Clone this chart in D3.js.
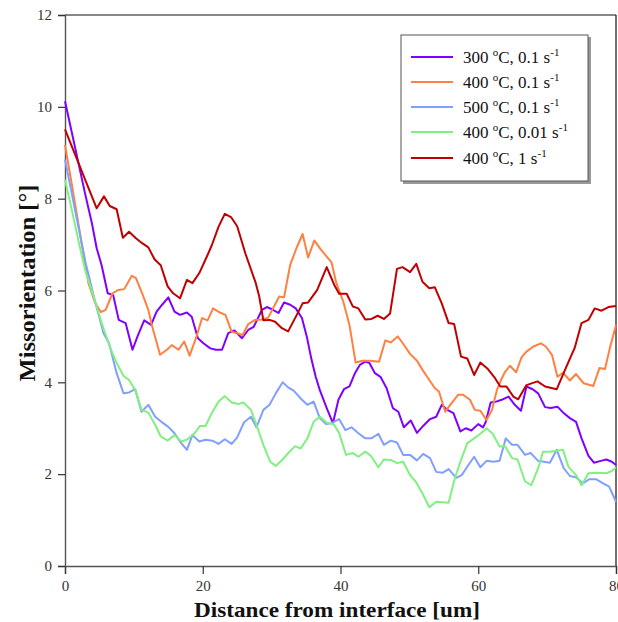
<!DOCTYPE html>
<html>
<head>
<meta charset="utf-8">
<script src="https://cdn.jsdelivr.net/npm/d3@7"></script>
<style>
  html, body { margin: 0; padding: 0; background: #fff; }
  svg { display: block; }
</style>
</head>
<body>
<svg id="chart" width="618" height="622"></svg>
<script>
// ---- data (distance [um], missorientation [deg]) ----
const xTicks = [0, 20, 40, 60, 80];
const yTicks = [0, 2, 4, 6, 8, 10, 12];

const s300_01 = [[0,10.12],[1.7,8.95],[2.9,8.12],[3.9,7.47],[4.6,6.92],[5.3,6.56],[6.2,5.94],[7.0,5.90],[7.8,5.36],[8.8,5.29],[9.8,4.71],[10.6,5.03],[11.5,5.35],[12.5,5.25],[13.3,5.54],[14.1,5.69],[15.0,5.85],[15.9,5.54],[16.7,5.47],[17.7,5.52],[18.4,5.43],[19.3,4.96],[20.1,4.85],[21.1,4.74],[21.9,4.71],[22.8,4.71],[23.7,5.07],[24.6,5.13],[25.7,4.96],[26.6,5.14],[27.4,5.21],[28.6,5.58],[29.3,5.64],[30.2,5.58],[31.0,5.51],[31.8,5.74],[32.7,5.69],[33.5,5.61],[34.4,5.40],[35.1,5.00],[35.8,4.49],[36.4,4.12],[37.0,3.83],[38.0,3.44],[38.9,3.11],[39.7,3.62],[40.5,3.85],[41.3,3.91],[42.1,4.20],[42.8,4.38],[43.6,4.45],[44.2,4.42],[45.0,4.20],[45.8,4.12],[46.7,3.87],[47.6,3.44],[48.4,3.36],[49.2,3.02],[50.2,3.17],[51.1,2.90],[52.0,3.05],[53.0,3.20],[53.9,3.25],[54.7,3.51],[55.5,3.40],[56.4,3.33],[57.4,2.93],[58.2,3.00],[59.0,2.95],[60.0,3.09],[60.7,3.02],[61.1,3.14],[61.8,3.56],[62.6,3.58],[63.4,3.62],[64.4,3.69],[65.3,3.51],[66.2,3.38],[67.0,3.91],[67.9,3.85],[68.7,3.76],[69.7,3.46],[70.5,3.44],[71.5,3.47],[72.4,3.33],[73.3,3.22],[74.2,3.14],[75.0,2.78],[76.0,2.40],[76.8,2.25],[77.8,2.29],[78.6,2.32],[79.4,2.27],[80,2.20]];

const s400_01 = [[0,9.17],[1,8.3],[2,7.4],[3,6.5],[3.4,6.16],[4.4,5.72],[5.2,5.53],[5.9,5.58],[6.9,5.94],[7.7,6.01],[8.6,6.03],[9.7,6.32],[10.3,6.27],[11.2,5.94],[12.1,5.58],[12.6,5.25],[13.8,4.60],[14.8,4.71],[15.5,4.81],[16.5,4.71],[17.3,4.89],[18.1,4.58],[19.1,5.00],[19.9,5.40],[20.7,5.35],[21.5,5.61],[22.5,5.52],[23.3,5.47],[24.2,5.10],[25.0,5.07],[25.8,5.03],[26.6,5.27],[27.6,5.36],[28.6,5.37],[29.5,5.41],[30.2,5.61],[31.1,5.87],[31.8,5.85],[32.7,6.56],[33.6,6.92],[34.5,7.23],[35.3,6.72],[36.2,7.09],[37.1,6.90],[38.0,6.74],[38.7,6.61],[39.4,6.16],[40.4,5.76],[41.3,5.25],[42.2,4.43],[43.2,4.47],[44.3,4.47],[45.6,4.45],[46.5,4.91],[47.3,4.87],[48.3,5.00],[49.1,4.84],[50.1,4.62],[51.1,4.47],[52.0,4.25],[52.9,4.05],[53.7,3.87],[54.3,3.80],[55.2,3.36],[56.1,3.54],[57.1,3.73],[57.8,3.73],[58.8,3.62],[59.5,3.40],[60.3,3.38],[61.2,3.18],[62.0,3.40],[62.7,3.83],[63.3,4.05],[63.9,4.23],[64.6,4.36],[65.5,4.22],[66.3,4.55],[67.0,4.67],[68.0,4.78],[69.1,4.85],[69.8,4.78],[70.7,4.60],[71.5,4.12],[72.3,4.21],[73.3,4.04],[74.2,4.18],[75.3,3.98],[76.7,3.92],[77.6,4.31],[78.4,4.29],[79.1,4.74],[80,5.25]];

const s500_01 = [[0,8.85],[1,8.1],[2,7.35],[3,6.6],[4.3,5.8],[5.6,5.07],[6.4,4.85],[7.5,4.20],[8.5,3.76],[9.3,3.78],[10.2,3.85],[11.1,3.36],[12.1,3.51],[13.1,3.25],[14.0,3.14],[15.0,3.03],[15.9,2.89],[16.7,2.71],[17.7,2.53],[18.5,2.85],[19.5,2.71],[20.4,2.75],[21.4,2.73],[22.3,2.66],[23.2,2.76],[24.2,2.66],[25.0,2.80],[26.0,3.13],[27.0,3.25],[27.8,3.02],[28.8,3.40],[29.7,3.51],[30.6,3.76],[31.6,4.00],[32.4,3.89],[33.2,3.82],[34.4,3.62],[35.2,3.51],[36.1,3.58],[37.0,3.22],[37.9,3.09],[38.7,3.11],[39.8,3.20],[40.7,2.96],[41.6,3.02],[42.6,2.89],[43.6,2.78],[44.5,2.78],[45.5,2.88],[46.3,2.64],[47.3,2.73],[48.2,2.69],[49.1,2.42],[50.1,2.42],[51.1,2.30],[52.0,2.44],[53.0,2.35],[53.9,2.05],[54.8,2.03],[55.7,2.11],[56.8,1.92],[57.6,1.98],[58.4,2.16],[59.4,2.38],[60.3,2.15],[61.2,2.29],[62.2,2.27],[63.1,2.29],[64.0,2.78],[64.9,2.64],[65.7,2.64],[66.8,2.42],[67.6,2.46],[68.7,2.29],[70.4,2.25],[71.4,2.53],[72.4,2.13],[73.3,1.96],[74.2,1.93],[75.2,1.80],[76.1,1.89],[77.1,1.89],[78.0,1.81],[79.0,1.73],[80,1.40]];

const s400_001 = [[0,8.41],[1,7.75],[2,7.05],[3,6.4],[4.3,5.8],[5.3,5.3],[6.5,4.78],[7.5,4.42],[8.5,4.14],[9.3,4.05],[10.2,3.83],[11.1,3.40],[12.1,3.34],[13.1,3.07],[13.9,2.82],[14.9,2.73],[15.9,2.85],[16.9,2.71],[17.8,2.76],[18.8,2.89],[19.6,3.05],[20.4,3.05],[21.3,3.33],[22.3,3.58],[23.2,3.70],[24.2,3.56],[25.2,3.53],[25.9,3.56],[27.0,3.40],[27.8,3.07],[28.8,2.64],[29.8,2.27],[30.6,2.18],[31.6,2.32],[32.6,2.49],[33.4,2.61],[34.2,2.56],[35.2,2.78],[36.1,3.14],[37.0,3.25],[38.0,3.12],[39.0,3.09],[39.8,2.90],[40.8,2.42],[41.8,2.46],[42.6,2.38],[43.6,2.49],[44.4,2.40],[45.5,2.15],[46.3,2.32],[47.3,2.31],[48.2,2.24],[49.1,2.27],[50.1,1.98],[51.0,1.82],[51.9,1.58],[52.9,1.28],[53.9,1.40],[55.7,1.38],[56.6,1.91],[57.5,2.31],[58.4,2.67],[59.4,2.78],[60.4,2.89],[61.2,3.00],[62.1,2.88],[63.1,2.60],[63.9,2.61],[64.9,2.35],[65.7,2.32],[66.8,1.84],[67.7,1.76],[68.7,2.13],[69.4,2.49],[70.4,2.49],[71.4,2.51],[72.3,2.53],[73.1,2.16],[74.2,1.98],[75.0,1.76],[76.0,2.02],[77.2,2.03],[78.6,2.02],[79.4,2.07],[80,2.15]];

const s400_1 = [[0,9.51],[4.6,7.79],[5.66,8.05],[6.5,7.84],[7.5,7.77],[8.4,7.15],[9.3,7.28],[10.3,7.14],[11.2,7.03],[12.1,6.94],[13.0,6.68],[13.9,6.55],[14.9,6.09],[15.7,5.94],[16.7,5.83],[17.7,6.23],[18.5,6.16],[19.5,6.38],[20.6,6.74],[21.3,6.98],[22.3,7.39],[23.2,7.67],[24.1,7.60],[25.0,7.40],[26.2,6.80],[27.7,6.16],[28.2,5.87],[28.8,5.35],[29.7,5.36],[30.5,5.32],[31.5,5.18],[32.4,5.11],[33.9,5.54],[34.5,5.72],[35.3,5.74],[36.6,6.01],[38.0,6.51],[39.1,6.12],[39.8,5.93],[40.9,5.93],[41.8,5.65],[42.6,5.61],[43.6,5.37],[44.5,5.38],[45.4,5.45],[46.3,5.38],[47.2,5.50],[48.2,6.47],[49.0,6.51],[50.1,6.40],[51.0,6.58],[51.9,6.19],[52.9,6.05],[53.7,6.07],[54.7,5.72],[55.7,5.29],[56.5,5.27],[57.5,4.56],[58.4,4.52],[59.4,4.16],[60.3,4.43],[61.4,4.29],[62.3,4.12],[63.2,3.91],[64.1,3.91],[65.1,3.69],[65.8,3.63],[67.0,3.94],[68.6,4.02],[69.7,3.91],[71.4,3.85],[72.8,4.34],[74.0,4.75],[75.0,5.29],[76.0,5.36],[76.9,5.61],[77.9,5.56],[78.9,5.64],[80,5.66]];

const seriesNames = [
  {t: "300", r: "0.1"},
  {t: "400", r: "0.1"},
  {t: "500", r: "0.1"},
  {t: "400", r: "0.01"},
  {t: "400", r: "1"}
];
const seriesData = [s300_01, s400_01, s500_01, s400_001, s400_1];
const colors = ["#8000ff", "#ff8040", "#80a0ff", "#80f080", "#c00000"];

// ---- layout ----
const svg = d3.select("#chart");
const x = d3.scaleLinear().domain([0, 80]).range([65, 616]);
const y = d3.scaleLinear().domain([0, 12]).range([566, 15]);

const serif = "'Liberation Serif', 'Times New Roman', serif";

// frame (top and right)
svg.append("line").attr("x1", x(0)).attr("x2", x(80)).attr("y1", y(12)).attr("y2", y(12))
  .attr("stroke", "#111").attr("stroke-width", 1.2);
svg.append("line").attr("x1", x(80)).attr("x2", x(80)).attr("y1", y(12)).attr("y2", y(0))
  .attr("stroke", "#111").attr("stroke-width", 1.2);

// axes
const xAxis = svg.append("g").attr("transform", `translate(0,${y(0)})`)
  .call(d3.axisBottom(x).tickValues(xTicks).tickSize(8).tickPadding(6));
const yAxis = svg.append("g").attr("transform", `translate(${x(0)},0)`)
  .call(d3.axisLeft(y).tickValues(yTicks).tickSize(7).tickPadding(6));
[xAxis, yAxis].forEach(g => {
  g.select(".domain").attr("stroke", "#555").attr("stroke-width", 1.4);
  g.selectAll(".tick line").attr("stroke", "#333").attr("stroke-width", 1.2);
  g.selectAll(".tick text").attr("font-family", serif).attr("font-size", 15).attr("fill", "#333");
});

// lines
const line = d3.line().x(d => x(d[0])).y(d => y(d[1]));
svg.append("g").selectAll("path").data(seriesData).join("path")
  .attr("d", line)
  .attr("fill", "none")
  .attr("stroke", (d, i) => colors[i])
  .attr("stroke-width", 2)
  .attr("stroke-linejoin", "round");

// axis titles
svg.append("text")
  .attr("transform", `translate(35,283) rotate(-90)`)
  .attr("text-anchor", "middle")
  .attr("font-family", serif).attr("font-weight", "bold").attr("font-size", 23)
  .attr("textLength", 197).attr("lengthAdjust", "spacingAndGlyphs")
  .attr("fill", "#111")
  .text("Missorientation [°]");

svg.append("text")
  .attr("x", 337).attr("y", 617)
  .attr("text-anchor", "middle")
  .attr("font-family", serif).attr("font-weight", "bold").attr("font-size", 22)
  .attr("textLength", 286).attr("lengthAdjust", "spacingAndGlyphs")
  .attr("fill", "#111")
  .text("Distance from interface [um]");

// legend
const lg = svg.append("g");
lg.append("rect").attr("x", 403).attr("y", 37).attr("width", 188).attr("height", 147).attr("fill", "#999");
lg.append("rect").attr("x", 401).attr("y", 35).attr("width", 187).attr("height", 146)
  .attr("fill", "#fff").attr("stroke", "#555").attr("stroke-width", 1);
const rowY = [57, 82, 107, 132, 158];
seriesNames.forEach((s, i) => {
  lg.append("line").attr("x1", 411).attr("x2", 453).attr("y1", rowY[i]).attr("y2", rowY[i])
    .attr("stroke", colors[i]).attr("stroke-width", 2);
  const t = lg.append("text").attr("x", 463).attr("y", rowY[i] + 6)
    .attr("font-family", serif).attr("font-size", 17).attr("fill", "#111");
  t.append("tspan").text(s.t + " ");
  t.append("tspan").attr("font-size", 11).attr("dy", -7).text("o");
  t.append("tspan").attr("dy", 7).text("C, " + s.r + " s");
  t.append("tspan").attr("font-size", 11).attr("dy", -7).text("-1");
});
</script>
</body>
</html>
